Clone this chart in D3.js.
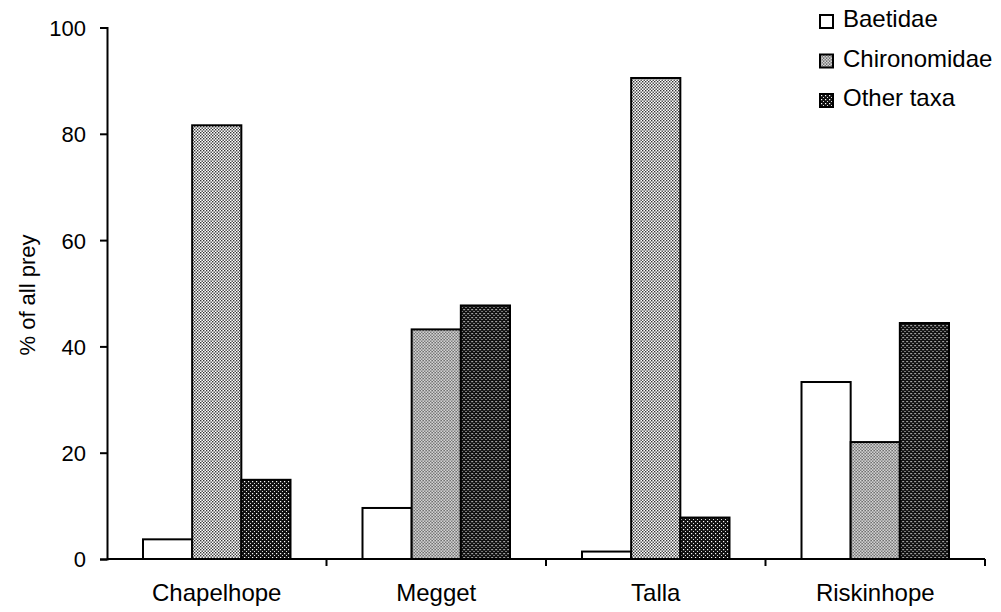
<!DOCTYPE html>
<html>
<head>
<title>Prey composition</title>
<script src="https://d3js.org/d3.v7.min.js"></script>
<style>
    body { margin: 0; background: #fff; }
    text { font-family: "Liberation Sans", Arial, sans-serif; fill: #000; }
    .axis path, .axis line { stroke: #000; stroke-width: 2px; }
    .axis text { font-size: 22px; }
</style>
</head>
<body>
<div id="chart"></div>
<script>
// data
const sites = ["Chapelhope", "Megget", "Talla", "Riskinhope"];
const taxa = ["Baetidae", "Chironomidae", "Other taxa"];
const baetidae = [3.7, 9.6, 1.4, 33.3];
const chironomidae = [81.6, 43.2, 90.5, 22.0];
const otherTaxa = [14.9, 47.7, 7.8, 44.4];
const yTicks = [0, 20, 40, 60, 80, 100];

const series = [baetidae, chironomidae, otherTaxa];

const width = 1001, height = 612;
const margin = {top: 27.5, right: 16, bottom: 53, left: 107};

const svg = d3.select("#chart").append("svg")
    .attr("width", width)
    .attr("height", height);

// fill patterns: plain, light dots, dark dots
const defs = svg.append("defs");
const light = defs.append("pattern")
    .attr("id", "light").attr("width", 3).attr("height", 3)
    .attr("patternUnits", "userSpaceOnUse");
light.append("rect").attr("width", 3).attr("height", 3).attr("fill", "#fff");
light.append("rect").attr("width", 1.4).attr("height", 1.4).attr("fill", "#333");
light.append("rect").attr("x", 1.5).attr("y", 1.5).attr("width", 1.4).attr("height", 1.4).attr("fill", "#333");

const dark = defs.append("pattern")
    .attr("id", "dark").attr("width", 4).attr("height", 4)
    .attr("patternUnits", "userSpaceOnUse");
dark.append("rect").attr("width", 4).attr("height", 4).attr("fill", "#111");
dark.append("rect").attr("x", 1).attr("y", 1).attr("width", 1.2).attr("height", 1.2).attr("fill", "#fff");
dark.append("rect").attr("x", 3).attr("y", 3).attr("width", 1).attr("height", 1).attr("fill", "#ddd");

const fills = ["#fff", "url(#light)", "url(#dark)"];

const x0 = d3.scaleBand()
    .domain(sites)
    .range([margin.left, width - margin.right])
    .paddingInner(0)
    .paddingOuter(0);

const x1 = d3.scaleBand()
    .domain(taxa)
    .range([36, x0.bandwidth() - 36])
    .padding(0);

const y = d3.scaleLinear()
    .domain([0, 100])
    .range([height - margin.bottom, margin.top]);

// bars
const groups = svg.append("g").selectAll("g")
    .data(sites)
    .join("g")
    .attr("transform", d => `translate(${x0(d)},0)`);

groups.selectAll("rect")
    .data((d, i) => taxa.map((t, j) => ({taxon: t, value: series[j][i], j: j})))
    .join("rect")
    .attr("x", d => x1(d.taxon))
    .attr("y", d => y(d.value))
    .attr("width", x1.bandwidth())
    .attr("height", d => y(0) - y(d.value))
    .attr("fill", d => fills[d.j])
    .attr("stroke", "#000")
    .attr("stroke-width", 2);

// y axis
svg.append("g")
    .attr("class", "axis")
    .attr("transform", `translate(${margin.left},0)`)
    .call(d3.axisLeft(y).tickValues(yTicks).tickSize(7).tickSizeOuter(7).tickPadding(14))
    .selectAll("text").attr("dy", "0.36em");

// x axis: ticks at category boundaries
const xAxis = svg.append("g")
    .attr("class", "axis")
    .attr("transform", `translate(0,${y(0)})`);
xAxis.append("line")
    .attr("x1", margin.left).attr("x2", width - margin.right);
xAxis.selectAll(".tick")
    .data(sites)
    .join("line")
    .attr("x1", d => x0(d) + x0.bandwidth())
    .attr("x2", d => x0(d) + x0.bandwidth())
    .attr("y1", 0).attr("y2", 7);
xAxis.selectAll("text")
    .data(sites)
    .join("text")
    .attr("x", d => x0(d) + x0.bandwidth() / 2)
    .attr("y", 42)
    .attr("text-anchor", "middle")
    .style("font-size", "24px")
    .text(d => d);

// y label
svg.append("text")
    .attr("transform", "translate(35,295) rotate(-90)")
    .attr("text-anchor", "middle")
    .style("font-size", "22px")
    .text("% of all prey");

// legend
const legend = svg.append("g").selectAll("g")
    .data(taxa)
    .join("g")
    .attr("transform", (d, i) => `translate(820,${27 + i * 39.5})`);
legend.append("rect")
    .attr("y", -12)
    .attr("width", 13).attr("height", 13)
    .attr("fill", (d, i) => fills[i])
    .attr("stroke", "#000")
    .attr("stroke-width", 2);
legend.append("text")
    .attr("x", 23).attr("y", 0)
    .style("font-size", "24px")
    .text(d => d);
</script>
</body>
</html>
